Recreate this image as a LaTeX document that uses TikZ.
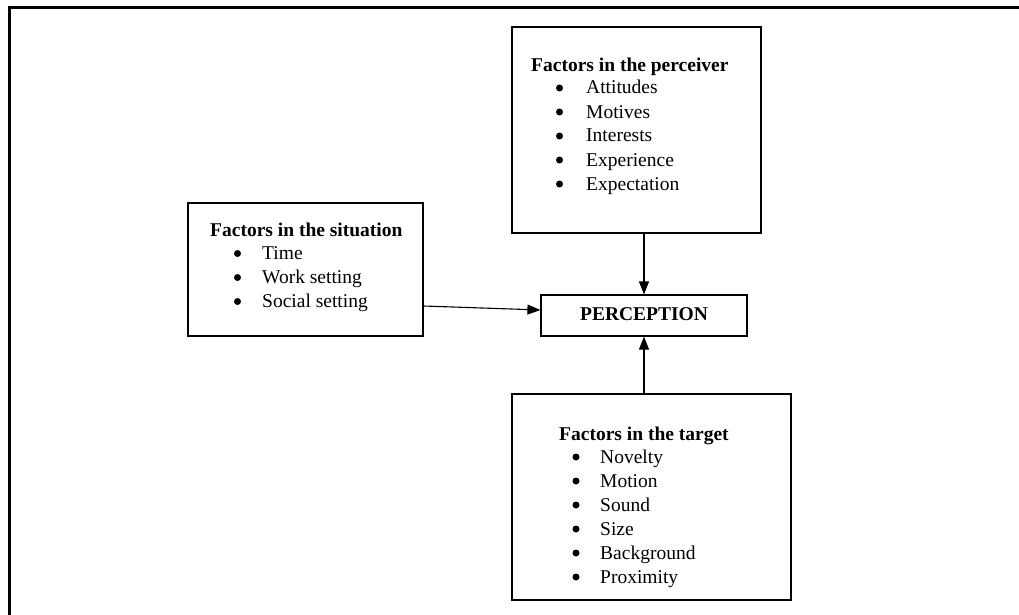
\documentclass[tikz,border=0pt]{standalone}
\usepackage{fontspec}
\setmainfont{Liberation Serif}
\usetikzlibrary{arrows.meta}

\tikzset{
  factorbox/.style={draw, line width=1.2pt, rectangle, inner sep=0pt},
  txt/.style={anchor=base west, inner sep=0pt, font=\fontsize{19.5}{24}\selectfont},
  hdr/.style={txt, font=\fontsize{19.5}{24}\selectfont\bfseries},
  dot/.style={circle, fill, inner sep=0pt, minimum size=7pt},
  link/.style={line width=1.1pt, -{Triangle[length=13pt,width=10pt]}},
}

% Bullet list: #1 = node prefix, #2 = bullet centre x, #3 = text x, #4 = first baseline, #5 = items
\newcommand{\bulletlist}[5]{%
  \foreach \item [count=\k from 0] in {#5} {
    \node[dot] (#1b\k) at (#2, {#4+24*\k-6}) {};
    \node[txt] (#1t\k) at (#3, {#4+24*\k}) {\item};
  }%
}

\begin{document}
\begin{tikzpicture}[x=1pt, y=-1pt]
  \useasboundingbox (0,0) rectangle (1019,615);

  % page frame (top and left edges only)
  \draw[line width=2.2pt] (9.5,615) -- (9.5,7.5) -- (1019,7.5);

  % boxes
  \node[factorbox, minimum width=249pt, minimum height=206pt] (perceiver) at (636.5,130) {};
  \node[factorbox, minimum width=235pt, minimum height=133pt] (situation) at (305.5,269.5) {};
  \node[factorbox, minimum width=206pt, minimum height=41pt] (perception) at (644,315.5) {};
  \node[factorbox, minimum width=279pt, minimum height=206pt] (target) at (651.5,497) {};

  % centre label
  \node[hdr, anchor=base] (plabel) at (644,320) {PERCEPTION};

  % factors in the perceiver
  \node[hdr] (perchead) at (531,71.5) {Factors in the perceiver};
  \bulletlist{pc}{559.5}{586}{94}{Attitudes,Motives,Interests,Experience,Expectation}

  % factors in the situation
  \node[hdr] (sithead) at (210,236) {Factors in the situation};
  \bulletlist{st}{237.5}{262}{259.5}{Time,Work setting,Social setting}

  % factors in the target
  \node[hdr] (tgthead) at (559,440) {Factors in the target};
  \bulletlist{tg}{576}{600}{463}{Novelty,Motion,Sound,Size,Background,Proximity}

  % connectors
  \draw[link] (perception.north |- perceiver.south) -- (perception.north);
  \draw[link] (perception.south |- target.north) -- (perception.south);
  \draw[link] ([yshift=-36.5pt]situation.east) -- ([yshift=5.5pt]perception.west);
\end{tikzpicture}
\end{document}
